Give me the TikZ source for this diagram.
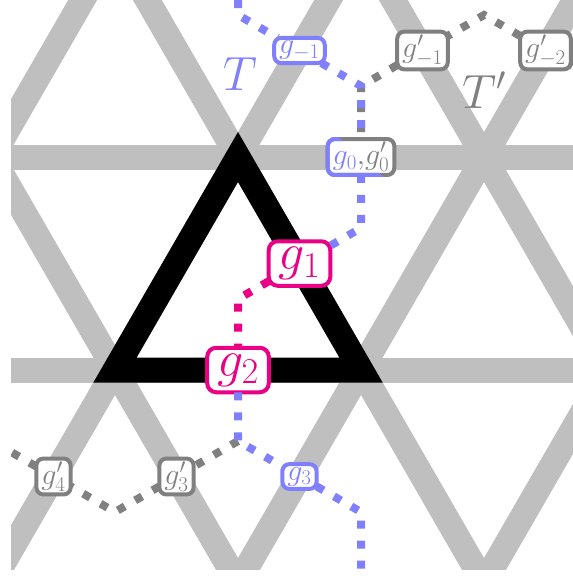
\RequirePackage{fix-cm}
\documentclass[tikz,border=0pt]{standalone}

\definecolor{hot}{RGB}{233,0,133}

\begin{document}
\begin{tikzpicture}[x=1pt,y=-1pt,
  grid/.style={line width=25pt,black!25},
  tri/.style={line width=25pt,line join=miter},
  walk/.style={line width=8pt,dash pattern=on 8pt off 12pt},
  lab/.style={draw=#1,text=#1,fill=white,line width=4pt,outer sep=0pt,rounded corners=7pt,
    inner sep=3pt,inner xsep=5pt,font=\fontsize{30}{34}\selectfont},
  big/.style={lab=hot,rounded corners=9pt,inner sep=6pt,inner xsep=10pt,
    font=\fontsize{52}{58}\selectfont},
  tag/.style={font=\fontsize{48}{52}\selectfont}]
\useasboundingbox (0,0) rectangle (573,579);
% lattice and the black triangle
\begin{scope}
\clip (11,0) rectangle (573,569);
\draw[grid] (-20,157) -- (600,157);
\draw[grid] (-20,370) -- (600,370);
\draw[grid] (115,-56) -- (-254,583);
\draw[grid] (361,-56) -- (-8,583);
\draw[grid] (607,-56) -- (238,583);
\draw[grid] (853,-56) -- (484,583);
\draw[grid] (-131,-56) -- (238,583);
\draw[grid] (115,-56) -- (484,583);
\draw[grid] (361,-56) -- (730,583);
\draw[grid] (607,-56) -- (976,583);
\draw[tri] (238,157) -- (115,370) -- (361,370) -- cycle;
\end{scope}
% labels
\node[lab=blue!50] (gm1) at (299.5,50.5) {$g_{-1}$};
\node[lab=gray] (gpm1) at (422.5,50.5) {$g'_{-1}$};
\node[lab=gray] (gpm2) at (545.5,50.5) {$g'_{-2}$};
\node[lab=gray] (g0) at (361,157) {$\textcolor{blue!50}{g_0}{,}g'_0$};
\node[big] (g1) at (299.5,263.5) {$g_1$};
\node[big] (g2) at (238,370) {$g_2$};
\node[lab=blue!50] (g3) at (299.5,476.5) {$g_3$};
\node[lab=gray] (gp3) at (176.5,476.5) {$g'_3$};
\node[lab=gray] (gp4) at (53.5,476.5) {$g'_4$};
\node[tag,blue!50] (tname) at (240,74) {$T$};
\node[tag,gray] (tpname) at (484,90) {$T'$};
% blue half of the shared box
\begin{scope}
\clip ([shift={(-8pt,8pt)}]g0.north west) -- ([shift={(4pt,8pt)}]g0.north west)
  -- ([shift={(-4pt,-8pt)}]g0.south east) -- ([shift={(-8pt,-8pt)}]g0.south west) -- cycle;
\draw[blue!50,line width=4pt,rounded corners=7pt] (g0.north west) rectangle (g0.south east);
\end{scope}
% the two walks
\begin{scope}
\clip (11,0) rectangle (573,569);
\coordinate (ttop) at (238,-40);
\coordinate (tbot) at (361,600);
\coordinate (qin) at (607,86);
\coordinate (qout) at (-8,441);
\coordinate (c0) at (238,15);
\coordinate (c1) at (361,86);
\coordinate (c2) at (361,228);
\coordinate (c3) at (238,299);
\coordinate (c4) at (238,441);
\coordinate (c5) at (361,512);
\coordinate (c6) at (484,15);
\coordinate (c7) at (115,512);
\draw[walk,gray] (qin) -- (gpm2) -- (c6) -- (gpm1) -- (c1) -- (g0);
\draw[walk,gray] (c4) -- (gp3) -- (c7) -- (gp4) -- (qout);
\draw[walk,blue!50] (ttop) -- (c0) -- (gm1) -- (c1) -- (g0) -- (c2) -- (g1);
\draw[walk,hot] (g1) -- (c3) -- (g2);
\draw[walk,blue!50] (g2) -- (c4) -- (g3) -- (c5) -- (tbot);
\end{scope}
\end{tikzpicture}
\end{document}
